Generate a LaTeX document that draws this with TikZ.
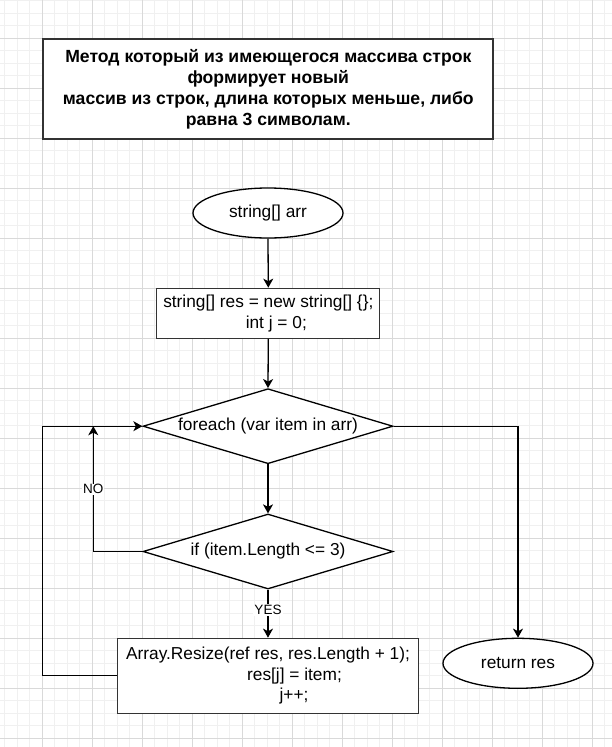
\documentclass[tikz,border=0pt]{standalone}
\usepackage{fontspec}
\setmainfont{Liberation Sans}
\usetikzlibrary{shapes.geometric,arrows.meta}
\definecolor{gridminor}{HTML}{F0F0F0}
\definecolor{gridmajor}{HTML}{D9D9D9}
\definecolor{edge}{HTML}{333333}
\begin{document}
\begin{tikzpicture}[x=1pt,y=-1pt,
  txt/.style={font=\fontsize{17.3}{20.6}\selectfont, text=black, align=center},
  rectbox/.style={txt, rectangle, draw=edge, line width=1.3pt, fill=white, inner sep=0pt},
  termbox/.style={txt, ellipse, draw=black, line width=1.3pt, fill=white, inner sep=0pt, minimum width=150pt, minimum height=50pt},
  decision/.style={diamond, draw=black, line width=1.3pt, fill=white, inner sep=0pt, minimum width=250pt, minimum height=75pt},
  flow/.style={draw=black, line width=1.3pt, -{Stealth[length=9pt,width=10pt,inset=2.5pt]}},
  lbl/.style={font=\fontsize{13.5}{16}\selectfont, text=black, fill=white, inner sep=1pt}
]
\useasboundingbox (0,0) rectangle (612,747);
\fill[white] (0,0) rectangle (612,747);
% grid
\foreach \x in {4.8,17.3,...,612} \draw[gridminor, line width=0.8pt] (\x,0) -- (\x,747);
\foreach \y in {0.8,13.3,...,747} \draw[gridminor, line width=0.8pt] (0,\y) -- (612,\y);
\foreach \x in {42.3,92.3,...,612} \draw[gridmajor, line width=0.8pt] (\x,0) -- (\x,747);
\foreach \y in {38.3,88.3,...,747} \draw[gridmajor, line width=0.8pt] (0,\y) -- (612,\y);

% title
\node[rectbox, line width=1.8pt, minimum width=450pt, minimum height=100pt, font=\fontsize{17.6}{21}\selectfont\bfseries] (title) at (268.3,89)
  {Метод который из имеющегося массива строк\\формирует новый\\массив из строк, длина которых меньше, либо\\равна 3 символам.};

% nodes
\node[termbox] (start) at (268,213) {string[] arr};
\node[rectbox, minimum width=223pt, minimum height=50pt] (init) at (268.3,313.3)
  {string[] res = new string[] \{\};\\\hspace*{16pt}int j = 0;};
\node[decision, label={[txt]center:foreach (var item in arr)}] (loop) at (268,426.2) {};
\node[decision, label={[txt]center:if (item.Length <= 3)}] (cond) at (268,551.5) {};
\node[rectbox, minimum width=300.6pt, minimum height=75pt] (resize) at (268,675.8)
  {Array.Resize(ref res, res.Length + 1);\\\hspace*{53pt}res[j] = item;\\\hspace*{52pt}j++;};
\node[termbox] (ret) at (518,663.3) {return res};

% connectors
\coordinate (nojoin) at (93.3,426.2);
\coordinate (loopcorner) at (42.7,675.8);
\draw[flow] (start.south) -- (init.north);
\draw[flow] (init.south) -- (loop.north);
\draw[flow] (loop.south) -- (cond.north);
\draw[flow] (cond.west) -| (nojoin);
\node[lbl] (nolbl) at (93.3,489.3) {NO};
\draw[flow] (cond.south) -- (resize.north);
\node[lbl] (yeslbl) at (268,610) {YES};
\draw[flow] (resize.west) -- (loopcorner) |- (loop.west);
\draw[flow] (loop.east) -| (ret.north);
\end{tikzpicture}
\end{document}
